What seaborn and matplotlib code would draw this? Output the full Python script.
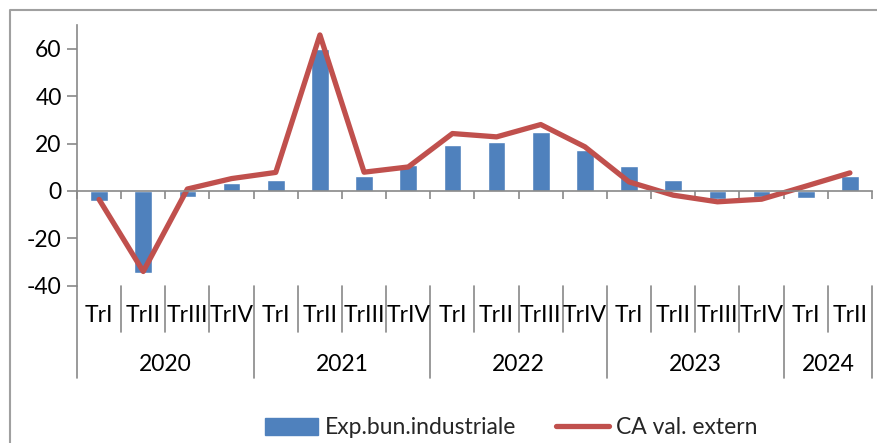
import numpy as np
import pandas as pd
import matplotlib
matplotlib.use('Agg')
import matplotlib.pyplot as plt
import seaborn as sns
from matplotlib.lines import Line2D
from matplotlib.patches import Patch
import matplotlib.transforms as mtransforms

# data
ani = ['2020', '2021', '2022', '2023', '2024']
trimestre = ['TrI', 'TrII', 'TrIII', 'TrIV'] * 4 + ['TrI', 'TrII']
exp_bun_industriale = [-4.3, -34.6, -2.5, 3.4, 4.8, 59.7, 6.2, 10.9, 19.3,
                       20.7, 24.9, 17.2, 10.7, 4.5, -3.6, -2.5, -2.9, 6.2]
ca_val_extern = [-3.6, -34.0, 0.8, 5.2, 7.8, 65.8, 7.9, 10.1, 24.2,
                 22.8, 28.0, 18.6, 3.8, -1.8, -4.6, -3.5, 2.0, 7.6]

n = len(trimestre)
df = pd.DataFrame({'poz': np.arange(n), 'exp': exp_bun_industriale, 'ca': ca_val_extern})

sns.set_style('white')
plt.rcParams['font.family'] = ['Lato', 'DejaVu Sans']
plt.rcParams['axes.unicode_minus'] = False

blue = '#4F81BD'
red = '#C0504D'
gray = '#898989'
fs = 16.5

fig = plt.figure(figsize=(8.78, 4.43), dpi=100)
ax = fig.add_axes([77 / 878, 1 - 285.7 / 443, (872 - 77) / 878, (285.7 - 25) / 443])

sns.barplot(data=df, x='poz', y='exp', color=blue, width=0.4, saturation=1, ax=ax)
sns.lineplot(data=df, x='poz', y='ca', color=red, linewidth=3.8, ax=ax)

ax.set_xlim(-0.5, n - 0.5)
ax.set_ylim(-40, 70)
ax.set_yticks(range(-40, 61, 20))
ax.set_xlabel('')
ax.set_ylabel('')

# axis styling
for s in ['top', 'right']:
    ax.spines[s].set_visible(False)
ax.spines['left'].set_color(gray)
ax.spines['left'].set_linewidth(1.2)
ax.spines['bottom'].set_position(('data', 0))
ax.spines['bottom'].set_color(gray)
ax.spines['bottom'].set_linewidth(1.2)
ax.set_xticks(np.arange(-0.5, n, 1))
ax.set_xticklabels([])
ax.tick_params(axis='x', direction='out', length=6, width=1.2, color=gray)
ax.tick_params(axis='y', direction='out', length=7, width=1.2, color=gray,
               labelsize=fs, labelcolor='black', pad=4)
ax.tick_params(left=True, bottom=True)

# two-level category labels below the plot
trans = mtransforms.blended_transform_factory(ax.transData, ax.transAxes)
y_q_end = -0.178
y_year_end = -0.354
for i in range(n):
    ax.text(i, -0.113, trimestre[i], transform=trans, ha='center', va='center',
            fontsize=fs, color='black')
year_starts = [0, 4, 8, 12, 16, 18]
for b in range(n + 1):
    end = y_year_end if b in year_starts else y_q_end
    ax.add_line(Line2D([b - 0.5, b - 0.5], [0, end], transform=trans,
                       color=gray, linewidth=1.2, clip_on=False))
for k, an in enumerate(ani):
    mid = (year_starts[k] + year_starts[k + 1] - 1) / 2
    ax.text(mid, -0.304, an, transform=trans, ha='center', va='center',
            fontsize=fs, color='black')

# chart border (partly cut off)
fig.add_artist(Line2D([10 / 878, 10 / 878, 1], [0, 1 - 10 / 443, 1 - 10 / 443],
                      transform=fig.transFigure, color='#A0A0A0', linewidth=1.5))

handles = [Patch(facecolor=blue, edgecolor=blue),
           Line2D([0], [0], color=red, linewidth=3.8)]
fig.legend(handles, ['Exp.bun.industriale', 'CA val. extern'], loc='center',
           bbox_to_anchor=(511.5 / 878, 1 - 428 / 443), ncol=2, frameon=False,
           fontsize=fs, handlelength=2.3, handletextpad=0.3, columnspacing=1.75)

fig.savefig('out.png', dpi=100)
